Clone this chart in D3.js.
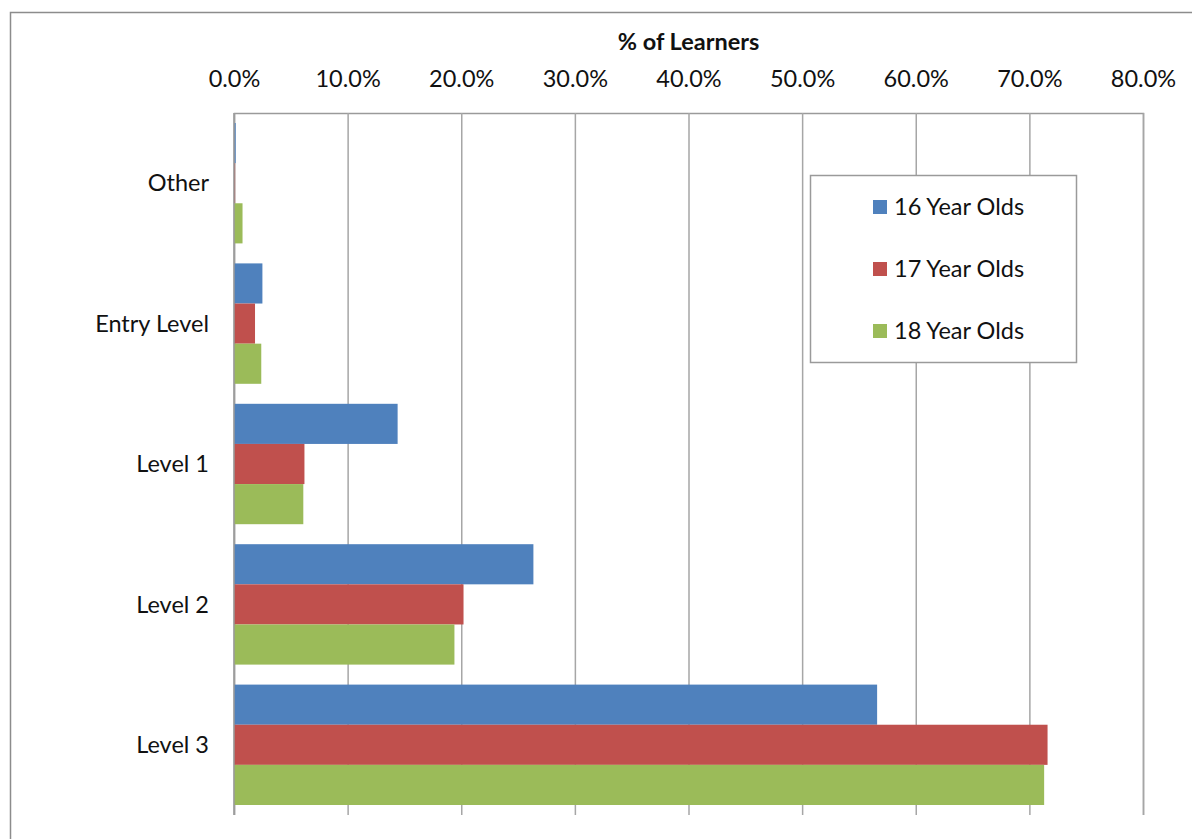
<!DOCTYPE html>
<html><head><meta charset="utf-8">
<script src="https://cdn.jsdelivr.net/npm/d3@7"></script>
<style>
html,body{margin:0;padding:0;background:#fff;}
svg{display:block;}
text{font-family:Lato,"Open Sans",sans-serif;fill:#111;}
</style></head>
<body>
<svg id="chart" width="1192" height="839"></svg>
<script>
const categories = ["Other", "Entry Level", "Level 1", "Level 2", "Level 3"];
const seriesNames = ["16 Year Olds", "17 Year Olds", "18 Year Olds"];
const values16 = [0.15, 2.5, 14.4, 26.35, 56.6];
const values17 = [0.1, 1.85, 6.2, 20.2, 71.6];
const values18 = [0.75, 2.4, 6.1, 19.4, 71.3];
const colors = ["#4F81BD", "#C0504D", "#9BBB59"];
const xTicks = [0, 10, 20, 30, 40, 50, 60, 70, 80];
const axisTitle = "% of Learners";

const seriesValues = [values16, values17, values18];
const svg = d3.select("#chart");
const fs = 23.5;

// outer chart border
svg.append("rect").attr("x", 10.5).attr("y", 12.5).attr("width", 1300).attr("height", 1000)
  .attr("fill", "none").attr("stroke", "#8c8c8c").attr("stroke-width", 1.5);

const pLeft = 234, pRight = 1143, pTop = 113, pBottom = 815;
const x = d3.scaleLinear().domain([0, 80]).range([pLeft, pRight]);
const y0 = d3.scaleBand().domain(categories).range([pTop, pBottom])
  .paddingInner(20 / 140.4).paddingOuter(10 / 140.4);
const y1 = d3.scaleBand().domain(seriesNames).range([0, y0.bandwidth()]);

// gridlines + axis
const axis = d3.axisTop(x).tickValues(xTicks).tickSize(-(pBottom - pTop)).tickPadding(26)
  .tickFormat(d => d.toFixed(1) + "%");
const gAxis = svg.append("g").attr("transform", `translate(0,${pTop})`).call(axis);
gAxis.select(".domain").attr("stroke", "#9a9a9a").attr("stroke-width", 1.5);
gAxis.selectAll(".tick line").attr("stroke", "#a6a6a6").attr("stroke-width", 1.5);
gAxis.selectAll(".tick text").attr("font-size", fs).attr("font-family", "Lato, sans-serif").attr("fill", "#111");

// title
svg.append("text").attr("x", (pLeft + pRight) / 2).attr("y", 50).attr("text-anchor", "middle")
  .attr("font-size", fs).attr("font-weight", "bold").text(axisTitle);

// bars
const groups = svg.append("g").selectAll("g").data(categories).join("g")
  .attr("transform", c => `translate(0,${y0(c)})`);
groups.selectAll("rect")
  .data((c, i) => seriesNames.map((s, k) => ({ s, k, v: seriesValues[k][i] })))
  .join("rect")
  .attr("x", x(0))
  .attr("y", d => y1(d.s))
  .attr("width", d => x(d.v) - x(0))
  .attr("height", y1.bandwidth())
  .attr("fill", d => colors[d.k]);

// left axis line
svg.append("line").attr("x1", pLeft).attr("x2", pLeft).attr("y1", pTop).attr("y2", pBottom)
  .attr("stroke", "#9a9a9a").attr("stroke-width", 1.5);

// category labels
svg.append("g").selectAll("text").data(categories).join("text")
  .attr("x", 209).attr("y", c => y0(c) + y0.bandwidth() / 2).attr("dy", "0.35em")
  .attr("text-anchor", "end").attr("font-size", fs).text(c => c);

// legend
const lg = svg.append("g");
lg.append("rect").attr("x", 810.5).attr("y", 175.5).attr("width", 266).attr("height", 187)
  .attr("fill", "#fff").attr("stroke", "#9a9a9a").attr("stroke-width", 1.5);
const legendY = d3.scalePoint().domain(seriesNames).range([207, 331]);
const items = lg.selectAll("g.item").data(seriesNames).join("g").attr("class", "item")
  .attr("transform", s => `translate(873,${legendY(s)})`);
items.append("rect").attr("x", 0).attr("y", -7).attr("width", 14).attr("height", 14)
  .attr("fill", (s, i) => colors[i]);
items.append("text").attr("x", 21).attr("dy", "0.35em").attr("font-size", fs).text(s => s);
</script>
</body></html>
